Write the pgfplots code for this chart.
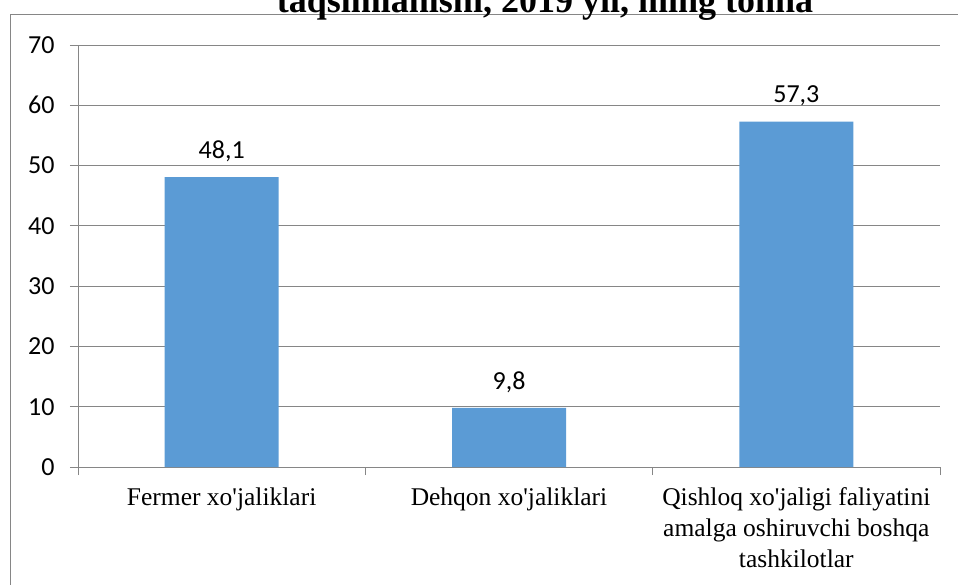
\documentclass[border=0pt]{standalone}
\usepackage{pgfplots}
\pgfplotsset{compat=1.18}
\usepackage{fontspec}
\setmainfont{Liberation Serif}
\newfontfamily\carlito{Carlito}
\definecolor{barblue}{HTML}{5B9BD5}
\definecolor{gridgray}{HTML}{868686}
\begin{document}
\begin{tikzpicture}[x=1pt,y=1pt]
\useasboundingbox (0,0) rectangle (958,584);
\clip (0,0) rectangle (958,584);
\draw[gridgray, line width=1pt] (10,569) rectangle (1000,-20);
\node[anchor=base, inner sep=0pt, font=\fontsize{36}{40}\selectfont\bfseries] at (545,571) {taqsimlanishi, 2019 yil, ming tonna};
\begin{axis}[
  at={(78pt,117pt)}, anchor=south west,
  scale only axis, width=862pt, height=422pt,
  xmin=-0.5, xmax=2.5, ymin=0, ymax=70,
  ytick={0,10,...,70},
  xtick={-0.5,0.5,1.5,2.5},
  xticklabels={},
  extra x ticks={0,1,2},
  extra x tick labels={Fermer xo\textquotesingle jaliklari, Dehqon xo\textquotesingle jaliklari, {Qishloq xo\textquotesingle jaligi faliyatini\\amalga oshiruvchi boshqa\\tashkilotlar}},
  extra x tick style={major tick length=0pt},
  axis lines=left,
  axis line style={gridgray, line width=0.8pt, -},
  ymajorgrids,
  grid style={gridgray, line width=0.8pt},
  tick style={gridgray, line width=0.8pt},
  tick align=outside,
  major tick length=8pt,
  /pgf/number format/assume math mode=true,
  yticklabel style={font=\carlito\fontsize{26}{30}\selectfont, xshift=-12pt},
  xticklabel style={font=\fontsize{25.5}{31}\selectfont, align=center, text=black, yshift=-17pt},
  ybar, bar width=114pt,
  nodes near coords,
  nodes near coords style={font=\carlito\fontsize{26}{30}\selectfont, black, yshift=12pt,
    /pgf/number format/.cd, fixed, precision=1, use comma, fixed zerofill, assume math mode=true},
]
\addplot[fill=barblue, draw=none] coordinates {(0,48.1) (1,9.8) (2,57.3)};
\end{axis}
\end{tikzpicture}
\end{document}
